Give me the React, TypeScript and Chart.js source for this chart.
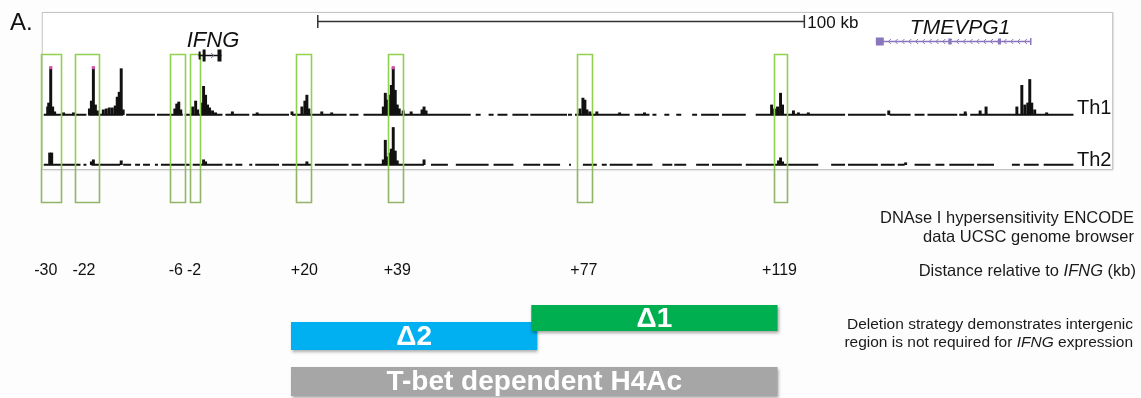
import React, { useEffect, useRef } from "react";
import { Chart, registerables } from "chart.js";

Chart.register(...registerables);

// ---------- DATA (positions in kb relative to IFNG) ----------
const axisMinKb = -39.8;
const axisMaxKb = 193.06;
const frameKb = [-32.04, 187.96];
const scaleBarKb = [24.69, 124.69];
const scaleBarLabel = "100 kb";

const th1PeakKb = [
  -30.82, -30.61, -30.2, -29.8, -29.39, -27.55, -25.51,
  -22.24, -21.84, -21.43, -21.02, -20.61,
  -19.39, -18.78, -18.16, -17.55, -16.94, -16.53, -16.12, -15.71, -15.31,
  -4.69, -4.29, -3.88, -3.47,
  -1.02, -0.41, 0.0, 0.82, 1.22, 1.63, 2.04, 2.45, 3.06, 3.67,
  7.14, 12.24, 19.39,
  21.43, 22.04, 22.45, 22.86, 25.51, 27.55,
  38.16, 38.57, 38.98, 39.39, 39.8, 40.2, 40.61, 41.02, 41.43, 42.24, 43.88,
  46.12, 46.53, 46.94,
  78.57, 79.18, 79.59, 80.0, 80.61, 82.04, 86.73, 91.84,
  117.96, 118.57, 119.18, 119.8, 120.2, 122.45, 123.47, 125.51,
  142.04, 157.76, 160.82, 162.04,
  168.37, 169.39, 170.0, 170.61, 171.02, 171.43, 172.04, 174.49,
];
const th1PeakSignal = [
  8, 12, 48, 8, 3, 2, 2,
  6, 14, 48, 10, 4,
  5, 6, 7, 7, 9, 18, 23, 47, 5,
  6, 11, 13, 5,
  8, 14, 5, 12, 29, 20, 10, 7, 4, 2,
  3, 2, 3,
  8, 14, 20, 6, 3, 2,
  8, 22, 15, 20, 30, 48, 25, 10, 6, 4, 3,
  5, 8, 4,
  6, 17, 15, 5, 3, 3, 2, 2,
  10, 6, 8, 22, 10, 4, 2, 2,
  4, 3, 4, 8,
  8, 30, 10, 12, 36, 12, 5, 2,
];

const th2PeakKb = [
  -30.41, -30.0, -21.84, -21.43, -15.71, 1.22, 1.63, 22.45,
  38.16, 38.57, 38.98, 39.39, 39.8, 40.2, 40.61, 41.02, 46.53,
  119.39, 119.8, 120.2, 145.51,
];
const th2PeakSignal = [
  12, 12, 3, 5, 4, 5, 3, 3,
  5, 25, 8, 12, 16, 38, 14, 4, 5,
  4, 7, 3, 2,
];

// clipped (saturated) Th1 peaks
const saturatedKb = [-30.2, -21.43, 40.2];
const saturatedSignal = [48, 48, 48];

// covered stretches of each track
const th1Segments: [number, number][] = [
  [-31.63, -22.86], [-22.45, -15.31], [-14.69, -8.78], [-8.37, -3.06],
  [-2.65, 5.1], [5.71, 10.61], [11.22, 18.78], [19.39, 30.61], [31.22, 33.06],
  [34.08, 56.12], [57.14, 58.16], [59.8, 60.82], [61.63, 63.67], [64.69, 67.96],
  [68.37, 75.92], [76.12, 76.94], [77.55, 88.78], [89.8, 92.86], [93.47, 94.29],
  [95.92, 96.94], [98.37, 99.39], [101.63, 102.65], [103.47, 107.14],
  [107.76, 112.65], [114.69, 133.06], [133.67, 141.43], [142.24, 146.53],
  [147.35, 149.39], [150.0, 156.12], [156.53, 158.16], [158.78, 180.0],
];
const th2Segments: [number, number][] = [
  [-31.63, -24.08], [-23.47, -22.86], [-21.84, -15.92], [-15.31, -13.67],
  [-12.86, -11.84], [-11.22, -9.8], [-8.78, -8.16], [-7.55, -1.63], [-1.02, 5.1],
  [5.71, 7.14], [7.76, 9.18], [10.61, 11.22], [11.84, 16.73], [17.35, 23.47],
  [24.08, 31.02], [31.63, 33.67], [34.29, 46.53], [47.96, 51.43], [53.06, 59.8],
  [60.82, 64.9], [66.94, 70.41], [71.02, 74.49], [76.33, 76.73], [79.18, 82.04],
  [83.06, 84.08], [84.69, 89.39], [90.2, 93.47], [95.51, 97.55], [97.96, 100.41],
  [102.45, 105.1], [105.71, 111.84], [112.65, 127.55], [130.2, 133.06],
  [133.67, 139.8], [140.41, 143.27], [143.88, 145.31], [147.35, 150.61],
  [151.63, 153.47], [154.49, 159.59], [160.2, 163.67], [167.35, 168.98],
  [169.8, 172.86], [173.88, 180.0],
];

// DNase hypersensitive sites (boxes) and their distance labels
const dhsLabels = ["-30", "-22", "-6", "-2", "+20", "+39", "+77", "+119"];
const dhsStartKb = [-32.24, -25.31, -5.71, -1.63, 20.2, 39.18, 77.96, 118.37];
const dhsEndKb = [-28.16, -20.2, -2.65, 0.41, 23.27, 42.24, 81.02, 121.22];
const dhsLabelKb = [-31.22, -23.37, -4.49, -0.72, 21.94, 41.02, 79.39, 119.59];

// genes
const ifngExonStartKb = [0.2, 1.02, 4.08];
const ifngExonEndKb = [0.61, 1.63, 4.9];
const ifngSpanKb = [0.2, 4.9];
const tmevSpanKb = [139.39, 171.22];
const tmevExonStartKb = [139.39, 154.29, 164.49];
const tmevExonEndKb = [141.02, 154.9, 165.1];

// deletions / acetylation region
const deletionLabels = ["Δ2", "Δ1", "T-bet dependent H4Ac"];
const deletionStartKb = [19.18, 68.57, 19.18];
const deletionEndKb = [69.8, 119.18, 119.18];

// ---------- STYLE ----------
const FONT = "'Liberation Sans', Arial, sans-serif";
const deletionColors = ["#00b0f0", "#00b050", "#a6a6a6"];
const deletionRows: [number, number][] = [[322, 350], [305, 331], [367, 396]];

function App() {
  const ref = useRef<HTMLCanvasElement | null>(null);

  useEffect(() => {
    if (!ref.current) return;

    const segPoints = (segs: [number, number][]) => {
      const pts: { x: number; y: number | null }[] = [];
      segs.forEach(([s, e]) => {
        pts.push({ x: s, y: 0 }, { x: e, y: 0 }, { x: e, y: null });
      });
      return pts;
    };

    const drawRuns = (
      ctx: CanvasRenderingContext2D,
      runs: [string, boolean][],
      right: number,
      y: number,
      size: number
    ) => {
      let total = 0;
      const widths = runs.map(([t, it]) => {
        ctx.font = `${it ? "italic " : ""}${size}px ${FONT}`;
        const w = ctx.measureText(t).width;
        total += w;
        return w;
      });
      let x = right - total;
      ctx.textAlign = "left";
      runs.forEach(([t, it], i) => {
        ctx.font = `${it ? "italic " : ""}${size}px ${FONT}`;
        ctx.fillText(t, x, y);
        x += widths[i];
      });
    };

    const annot = {
      id: "annot",
      beforeDatasetsDraw(chart: any) {
        const ctx: CanvasRenderingContext2D = chart.ctx;
        const xs = chart.scales.x;
        ctx.save();
        ctx.fillStyle = "#fdfdfd";
        ctx.fillRect(0, 0, chart.width, chart.height);
        // browser frame
        const fx1 = xs.getPixelForValue(frameKb[0]);
        const fx2 = xs.getPixelForValue(frameKb[1]);
        ctx.shadowColor = "rgba(0,0,0,0.25)";
        ctx.shadowBlur = 2;
        ctx.shadowOffsetX = 1;
        ctx.shadowOffsetY = 1;
        ctx.fillStyle = "#ffffff";
        ctx.fillRect(fx1, 12, fx2 - fx1, 157);
        ctx.shadowColor = "transparent";
        ctx.strokeStyle = "#c4c4c4";
        ctx.lineWidth = 1;
        ctx.strokeRect(fx1 + 0.5, 12.5, fx2 - fx1, 157);
        ctx.restore();
      },
      afterDatasetsDraw(chart: any) {
        const ctx: CanvasRenderingContext2D = chart.ctx;
        const xs = chart.scales.x;
        const px = (v: number) => xs.getPixelForValue(v);
        ctx.save();

        // DHS boxes
        ctx.lineWidth = 1.6;
        dhsStartKb.forEach((s, i) => {
          const x1 = Math.round(px(s)) + 0.5;
          const x2 = Math.round(px(dhsEndKb[i])) + 0.5;
          ctx.strokeStyle = "#92d050";
          ctx.beginPath();
          ctx.moveTo(x1, 169);
          ctx.lineTo(x1, 54.5);
          ctx.lineTo(x2, 54.5);
          ctx.lineTo(x2, 169);
          ctx.stroke();
          ctx.strokeStyle = "#93b567";
          ctx.beginPath();
          ctx.moveTo(x1, 169);
          ctx.lineTo(x1, 202.5);
          ctx.lineTo(x2, 202.5);
          ctx.lineTo(x2, 169);
          ctx.stroke();
        });

        // scale bar
        const s1 = px(scaleBarKb[0]);
        const s2 = px(scaleBarKb[1]);
        ctx.strokeStyle = "#333";
        ctx.lineWidth = 1.5;
        ctx.beginPath();
        ctx.moveTo(s1, 21.5);
        ctx.lineTo(s2, 21.5);
        ctx.moveTo(s1, 15);
        ctx.lineTo(s1, 28);
        ctx.moveTo(s2, 15);
        ctx.lineTo(s2, 28);
        ctx.stroke();
        ctx.fillStyle = "#111";
        ctx.font = `17px ${FONT}`;
        ctx.textAlign = "left";
        ctx.textBaseline = "middle";
        ctx.fillText(scaleBarLabel, s2 + 3, 23);

        // IFNG gene model
        ctx.strokeStyle = "#111";
        ctx.lineWidth = 1.5;
        ctx.beginPath();
        ctx.moveTo(px(ifngSpanKb[0]), 55.5);
        ctx.lineTo(px(ifngSpanKb[1]), 55.5);
        ctx.stroke();
        ctx.fillStyle = "#111";
        ifngExonStartKb.forEach((s, i) => {
          const h = i === 0 ? 8 : 12;
          ctx.fillRect(px(s), 55.5 - h / 2, Math.max(2, px(ifngExonEndKb[i]) - px(s)), h);
        });
        ctx.strokeStyle = "#7d6bb5";
        ctx.lineWidth = 1;
        const ax = px((ifngSpanKb[0] + ifngSpanKb[1]) / 2 + 0.6);
        ctx.beginPath();
        ctx.moveTo(ax - 2, 53);
        ctx.lineTo(ax + 1, 55.5);
        ctx.lineTo(ax - 2, 58);
        ctx.stroke();
        ctx.fillStyle = "#111";
        ctx.font = `italic 22px ${FONT}`;
        ctx.textAlign = "center";
        ctx.fillText("IFNG", 213, 41);

        // TMEVPG1 gene model
        const t1 = px(tmevSpanKb[0]);
        const t2 = px(tmevSpanKb[1]);
        ctx.strokeStyle = "#8a76bd";
        ctx.fillStyle = "#8a76bd";
        ctx.lineWidth = 1.5;
        ctx.beginPath();
        ctx.moveTo(t1, 41.5);
        ctx.lineTo(t2, 41.5);
        ctx.moveTo(t2, 38);
        ctx.lineTo(t2, 45);
        ctx.stroke();
        tmevExonStartKb.forEach((s, i) => {
          const w = Math.max(3, px(tmevExonEndKb[i]) - px(s));
          ctx.fillRect(px(s), i === 0 ? 37.5 : 38.5, w, i === 0 ? 8 : 6);
        });
        ctx.lineWidth = 1;
        for (let cx = t1 + 13; cx < t2 - 3; cx += 6.8) {
          ctx.beginPath();
          ctx.moveTo(cx + 2, 39);
          ctx.lineTo(cx - 0.5, 41.5);
          ctx.lineTo(cx + 2, 44);
          ctx.stroke();
        }
        ctx.fillStyle = "#111";
        ctx.font = `italic 21px ${FONT}`;
        ctx.textAlign = "center";
        ctx.fillText("TMEVPG1", 960, 28);

        // "A."
        ctx.font = `24px ${FONT}`;
        ctx.textAlign = "left";
        ctx.fillText("A.", 10, 23);

        // track labels
        ctx.font = `20px ${FONT}`;
        ctx.textBaseline = "alphabetic";
        ctx.fillText("Th1", 1077, 114);
        ctx.fillText("Th2", 1077, 166);

        // distance labels
        ctx.textBaseline = "middle";
        ctx.font = `16px ${FONT}`;
        ctx.textAlign = "center";
        dhsLabels.forEach((l, i) => {
          ctx.fillText(l, px(dhsLabelKb[i]), 271);
        });

        // right-hand captions
        ctx.fillStyle = "#1a1a1a";
        drawRuns(ctx, [["DNAse I hypersensitivity ENCODE", false]], 1134, 218, 16.5);
        drawRuns(ctx, [["data UCSC genome browser", false]], 1134, 237, 16.5);
        drawRuns(ctx, [["Distance relative to ", false], ["IFNG", true], [" (kb)", false]], 1136, 271, 16.5);
        drawRuns(ctx, [["Deletion strategy demonstrates intergenic", false]], 1133, 325, 15.5);
        drawRuns(ctx, [["region is not required for ", false], ["IFNG", true], [" expression", false]], 1133, 343, 15.5);

        // deletion bars
        deletionStartKb.forEach((s, i) => {
          const x1 = px(s);
          const x2 = px(deletionEndKb[i]);
          const [y1, y2] = deletionRows[i];
          ctx.save();
          ctx.shadowColor = "rgba(0,0,0,0.35)";
          ctx.shadowBlur = 3;
          ctx.shadowOffsetX = 1;
          ctx.shadowOffsetY = 2;
          ctx.fillStyle = deletionColors[i];
          ctx.fillRect(x1, y1, x2 - x1, y2 - y1);
          ctx.restore();
          ctx.fillStyle = "#ffffff";
          ctx.font = `bold 28px ${FONT}`;
          ctx.textAlign = "center";
          ctx.textBaseline = "middle";
          ctx.fillText(deletionLabels[i], (x1 + x2) / 2, (y1 + y2) / 2 + 1);
        });

        ctx.restore();
      },
    };

    const chart = new Chart(ref.current, {
      type: "bar",
      data: {
        datasets: [
          {
            type: "line",
            label: "Th1 coverage",
            data: segPoints(th1Segments),
            yAxisID: "yTh1",
            borderColor: "#111",
            borderWidth: 2,
            pointRadius: 0,
            spanGaps: false,
            order: 2,
          } as any,
          {
            type: "line",
            label: "Th2 coverage",
            data: segPoints(th2Segments),
            yAxisID: "yTh2",
            borderColor: "#111",
            borderWidth: 2,
            pointRadius: 0,
            spanGaps: false,
            order: 2,
          } as any,
          {
            type: "bar",
            label: "Th1",
            data: th1PeakKb.map((x, i) => ({ x, y: th1PeakSignal[i] })),
            yAxisID: "yTh1",
            backgroundColor: "#111",
            barThickness: 2.3,
            grouped: false,
            order: 1,
          } as any,
          {
            type: "bar",
            label: "Th2",
            data: th2PeakKb.map((x, i) => ({ x, y: th2PeakSignal[i] })),
            yAxisID: "yTh2",
            backgroundColor: "#111",
            barThickness: 2.3,
            grouped: false,
            order: 1,
          } as any,
          {
            type: "line",
            label: "saturated",
            data: saturatedKb.map((x, i) => ({ x, y: saturatedSignal[i] })),
            yAxisID: "yTh1",
            showLine: false,
            pointStyle: "rect",
            pointRadius: 2.2,
            pointBackgroundColor: "#d64fa6",
            pointBorderWidth: 0,
            order: 0,
          } as any,
        ],
      },
      options: {
        animation: false,
        responsive: false,
        maintainAspectRatio: false,
        devicePixelRatio: 1,
        layout: { padding: 0 },
        plugins: {
          legend: { display: false },
          title: { display: false },
          tooltip: { enabled: false },
        },
        scales: {
          x: { type: "linear", min: axisMinKb, max: axisMaxKb, display: false, offset: false },
          yTh1: { type: "linear", min: -285, max: 113, display: false },
          yTh2: { type: "linear", min: -234, max: 164, display: false },
        },
      } as any,
      plugins: [annot],
    });

    return () => chart.destroy();
  }, []);

  return (
    <div
      style={{
        position: "absolute",
        left: 0,
        top: 0,
        width: 1141,
        height: 398,
        background: "#fdfdfd",
      }}
    >
      <canvas ref={ref} width={1141} height={398} style={{ display: "block" }} />
    </div>
  );
}

export default App;
